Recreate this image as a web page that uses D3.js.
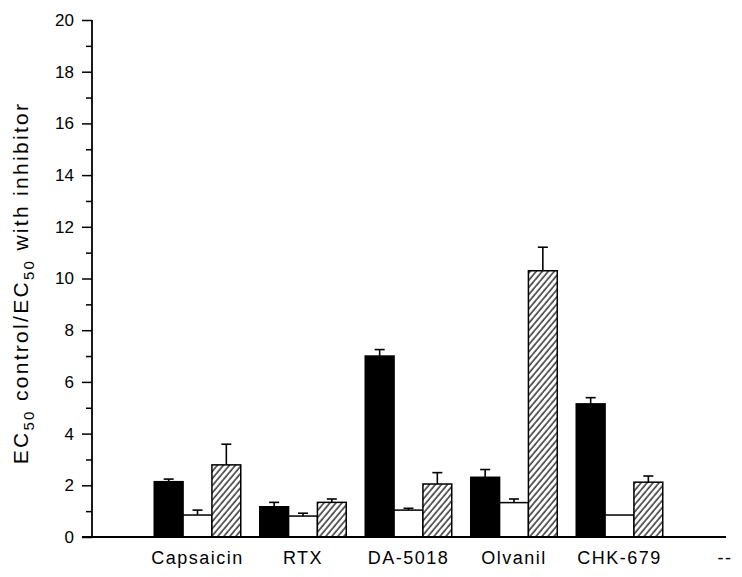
<!DOCTYPE html>
<html>
<head>
<meta charset="utf-8">
<script src="https://cdn.jsdelivr.net/npm/d3@7"></script>
<style>
  html, body { margin: 0; padding: 0; background: #fff; }
  svg { display: block; }
  text { font-family: "Liberation Sans", Arial, sans-serif; fill: #000; }
</style>
</head>
<body>
<svg id="chart" width="742" height="577"></svg>
<script>
const categories = ["Capsaicin", "RTX", "DA-5018", "Olvanil", "CHK-679", "--"];
const seriesNames = ["black", "white", "hatched"];
const blackValues = [2.14, 1.17, 7.0, 2.31, 5.15];
const blackErrors = [0.10, 0.17, 0.25, 0.30, 0.24];
const whiteValues = [0.85, 0.81, 1.04, 1.33, 0.85];
const whiteErrors = [0.19, 0.11, 0.07, 0.14, 0];
const hatchedValues = [2.79, 1.34, 2.05, 10.3, 2.12];
const hatchedErrors = [0.80, 0.13, 0.44, 0.91, 0.24];
const yTicks = [0, 2, 4, 6, 8, 10, 12, 14, 16, 18, 20];
const yMinorTicks = [1, 3, 5, 7, 9, 11, 13, 15, 17, 19];

const svg = d3.select("#chart");

const defs = svg.append("defs");
const pat = defs.append("pattern")
  .attr("id", "hatch")
  .attr("patternUnits", "userSpaceOnUse")
  .attr("width", 4.6).attr("height", 10)
  .attr("patternTransform", "rotate(40)");
pat.append("rect").attr("width", 4.6).attr("height", 10).attr("fill", "#fff");
pat.append("line").attr("x1", 1).attr("x2", 1).attr("y1", 0).attr("y2", 10)
  .attr("stroke", "#000").attr("stroke-width", 1.2);

const x = d3.scaleLinear().domain([0, categories.length]).range([92, 725]);
const y = d3.scaleLinear().domain([0, 20]).range([537, 20]);
const step = x(1) - x(0);
const sub = d3.scaleBand().domain(seriesNames).range([-0.41 * step, 0.41 * step]).padding(0);

const fills = { black: "#000", white: "#fff", hatched: "url(#hatch)" };
const valueMap = { black: blackValues, white: whiteValues, hatched: hatchedValues };
const errMap = { black: blackErrors, white: whiteErrors, hatched: hatchedErrors };

const bars = [];
seriesNames.forEach(s => {
  valueMap[s].forEach((v, i) => bars.push({ s, i, v, e: errMap[s][i] }));
});

const eg = svg.append("g");
bars.filter(d => d.e > 0).forEach(d => {
  const cx = x(d.i + 1) + sub(d.s) + sub.bandwidth() / 2;
  eg.append("line").attr("x1", cx).attr("x2", cx)
    .attr("y1", y(d.v)).attr("y2", y(d.v + d.e))
    .attr("stroke", "#000").attr("stroke-width", 1.6);
  eg.append("line").attr("x1", cx - 5).attr("x2", cx + 5)
    .attr("y1", y(d.v + d.e)).attr("y2", y(d.v + d.e))
    .attr("stroke", "#000").attr("stroke-width", 1.6);
});

svg.append("g").selectAll("rect").data(bars).join("rect")
  .attr("x", d => x(d.i + 1) + sub(d.s))
  .attr("width", sub.bandwidth())
  .attr("y", d => y(d.v))
  .attr("height", d => y(0) - y(d.v))
  .attr("fill", d => fills[d.s])
  .attr("stroke", "#000").attr("stroke-width", 1.5);

const yAxis = svg.append("g").attr("transform", `translate(${x(0)},0)`)
  .call(d3.axisLeft(y).tickValues(yTicks).tickSize(10).tickPadding(8).tickFormat(d3.format("d")));
yAxis.select(".domain").remove();
yAxis.selectAll(".tick line").attr("stroke", "#000").attr("stroke-width", 1.5);
yAxis.selectAll("text").style("font-size", "17px").attr("font-family", null);
svg.append("g").attr("transform", `translate(${x(0)},0)`)
  .call(d3.axisLeft(y).tickValues(yMinorTicks).tickSize(6).tickFormat(""))
  .call(g => g.select(".domain").remove())
  .selectAll(".tick line").attr("stroke", "#000").attr("stroke-width", 1.5);
svg.append("line").attr("x1", x(0)).attr("x2", x(0)).attr("y1", y(20)).attr("y2", y(0))
  .attr("stroke", "#000").attr("stroke-width", 1.8);

svg.append("line").attr("x1", x(0) - 10).attr("x2", x(categories.length) + 1)
  .attr("y1", y(0)).attr("y2", y(0)).attr("stroke", "#000").attr("stroke-width", 1.8);
svg.append("g").selectAll("text").data(categories).join("text")
  .attr("x", (d, i) => x(i + 1))
  .attr("y", 564)
  .attr("text-anchor", "middle")
  .style("font-size", "18px")
  .style("letter-spacing", "1.5px")
  .text(d => d);

const yl = svg.append("text")
  .attr("transform", `translate(28,283) rotate(-90)`)
  .attr("text-anchor", "middle")
  .style("font-size", "21px")
  .style("letter-spacing", "2.3px");
yl.append("tspan").text("EC");
yl.append("tspan").attr("dy", 6).style("font-size", "15px").text("50");
yl.append("tspan").attr("dy", -6).text(" control/EC");
yl.append("tspan").attr("dy", 6).style("font-size", "15px").text("50");
yl.append("tspan").attr("dy", -6).text(" with inhibitor");
</script>
</body>
</html>
